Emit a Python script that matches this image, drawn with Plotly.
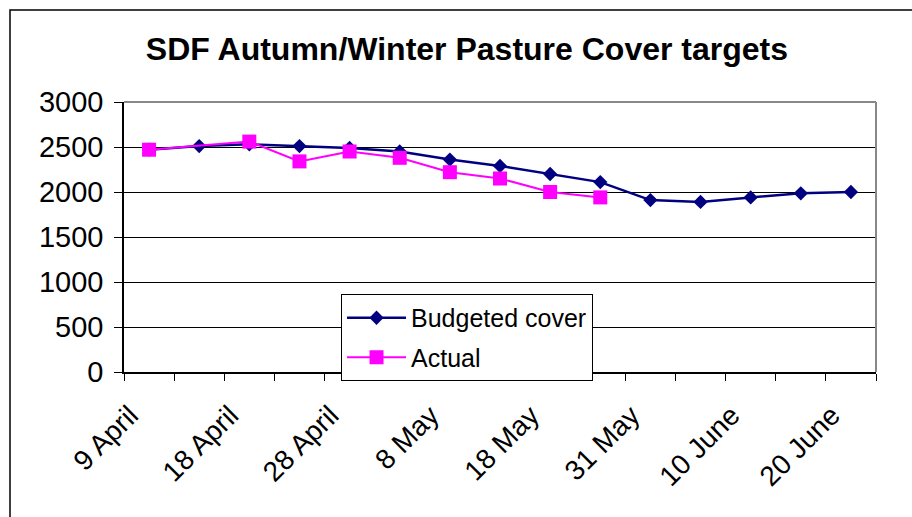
import plotly.graph_objects as go

categories = ["9 April", "13 April", "18 April", "23 April", "28 April", "3 May", "8 May",
              "13 May", "18 May", "24 May", "31 May", "5 June", "10 June", "15 June", "20 June"]
shown_labels = ["9 April", "18 April", "28 April", "8 May", "18 May", "31 May", "10 June", "20 June"]
budgeted = [2470, 2510, 2530, 2510, 2490, 2450, 2360, 2290, 2200, 2110, 1910, 1890, 1940, 1985, 2000]
actual = [2470, None, 2560, 2340, 2450, 2380, 2220, 2150, 2000, 1940, None, None, None, None, None]

FONT = "Liberation Sans, Arial, sans-serif"

fig = go.Figure()
fig.add_trace(go.Scatter(
    x=categories, y=budgeted, name="Budgeted cover", mode="lines+markers",
    legendgroup="a",
    line=dict(color="#000080", width=2.5),
    marker=dict(symbol="diamond", size=11, color="#000080"),
))
fig.add_trace(go.Scatter(
    x=categories, y=actual, name="Actual", mode="lines+markers",
    legendgroup="b", connectgaps=True,
    line=dict(color="#FF00FF", width=2),
    marker=dict(symbol="square", size=14, color="#FF00FF"),
))

ticktext = [c if c in shown_labels else "" for c in categories]

fig.update_layout(
    width=912, height=517,
    margin=dict(l=124, r=36, t=102, b=145),
    paper_bgcolor="white", plot_bgcolor="white",
    font=dict(family=FONT, color="black"),
    showlegend=True,
    title=dict(text="<b>SDF Autumn/Winter Pasture Cover targets</b>",
               x=0.512, xanchor="center", y=0.905, yanchor="middle",
               font=dict(size=32, family=FONT, color="black")),
    legend=dict(x=0.2886, y=0.2889, xanchor="left", yanchor="top",
                bgcolor="white", bordercolor="black", borderwidth=1,
                font=dict(size=25, family=FONT), itemwidth=59,
                tracegroupgap=4),
    xaxis=dict(type="category", categoryorder="array", categoryarray=categories,
               tickmode="array", tickvals=categories, ticktext=ticktext,
               tickson="boundaries", ticks="outside", ticklen=7, tickcolor="black",
               tickangle=-45, tickfont=dict(size=28, family=FONT),
               ticklabelstandoff=14, ticklabelshift=-19,
               showline=True, linecolor="black", linewidth=1.5,
               showgrid=False, range=[-0.5, 14.5], automargin=False),
    yaxis=dict(range=[0, 3000], dtick=500, tick0=0,
               ticks="outside", ticklen=8, tickcolor="black",
               tickfont=dict(size=29, family=FONT), ticklabelstandoff=5,
               showline=True, linecolor="black", linewidth=1.5,
               showgrid=True, gridcolor="black", gridwidth=1,
               zeroline=False, automargin=False),
    shapes=[
        dict(type="line", xref="paper", yref="paper", x0=0, x1=1, y0=1, y1=1,
             line=dict(color="#888888", width=2)),
        dict(type="line", xref="paper", yref="paper", x0=1, x1=1, y0=0, y1=1,
             line=dict(color="#888888", width=2)),
        dict(type="rect", xref="paper", yref="paper",
             x0=(10 - 124) / 752, x1=(915 - 124) / 752,
             y0=(372 - 525) / 270, y1=(372 - 10) / 270,
             line=dict(color="black", width=1.5), layer="below"),
    ],
)

fig.write_html("out.html", config={"displayModeBar": False},
               post_script="document.body.style.margin='0';")
